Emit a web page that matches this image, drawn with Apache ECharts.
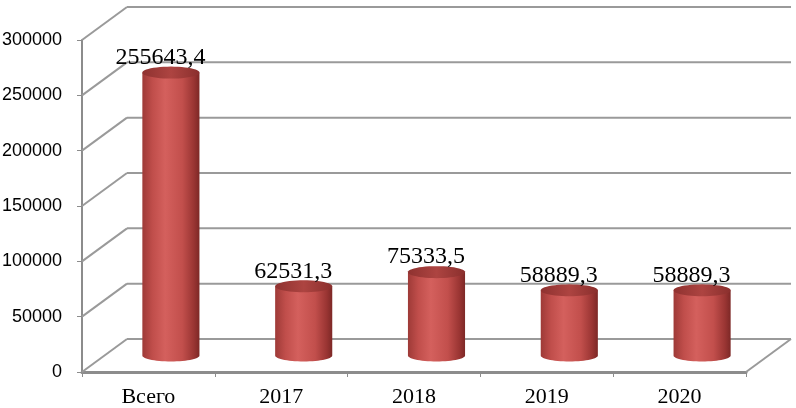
<!DOCTYPE html>
<html>
<head>
<meta charset="utf-8">
<script src="https://cdn.jsdelivr.net/npm/echarts@6/dist/echarts.min.js"></script>
<style>
  html, body { margin: 0; padding: 0; background: #fff; }
  #chart { width: 796px; height: 408px; }
</style>
</head>
<body>
<div id="chart"></div>
<script>
const categories = ["Всего", "2017", "2018", "2019", "2020"]
const values = [255643.4, 62531.3, 75333.5, 58889.3, 58889.3]
const yTicks = [0, 50000, 100000, 150000, 200000, 250000, 300000]

// depth of the 3d box (back wall offset) and where the bars stand in it
const DEPTH_X = 45
const DEPTH_Y = -33
const MID_X = 22.5
const MID_Y = -16.5
const WALL_COLOR = "#9a9a9a"

const chart = echarts.init(document.getElementById("chart"))

function ellipsePts(cx, cy, rx, ry, from, to, n) {
  const pts = []
  for (let k = 0; k <= n; k++) {
    const a = from + (to - from) * k / n
    pts.push([cx + rx * Math.cos(a), cy + ry * Math.sin(a)])
  }
  return pts
}

const option = {
  animation: false,
  grid: {
    left: 82,
    right: 50,
    top: 40,
    bottom: 36,
    outerBoundsMode: "none",
  },
  xAxis: {
    type: "category",
    data: categories,
    axisLine: { lineStyle: { color: "#8c8c8c", width: 3 } },
    axisTick: { show: true, length: 5, lineStyle: { color: "#8c8c8c" } },
    axisLabel: {
      margin: 14,
      fontFamily: "Liberation Serif",
      fontSize: 22,
      color: "#000",
    },
    splitLine: { show: false },
  },
  yAxis: {
    type: "value",
    min: 0,
    max: 300000,
    interval: 50000,
    axisLine: { show: true, lineStyle: { color: "#8c8c8c", width: 2 } },
    axisTick: { show: true, length: 5, lineStyle: { color: "#8c8c8c" } },
    axisLabel: {
      margin: 20,
      fontFamily: "Liberation Sans",
      fontSize: 18,
      color: "#000",
      formatter: (v) => String(v), // no thousands separators
    },
    splitLine: { show: false },
  },
  series: [
    {
      // left wall, back wall and floor lines
      type: "custom",
      z: 1,
      silent: true,
      data: yTicks.map((v) => [0, v]),
      renderItem: function (params, api) {
        const cs = params.coordSys
        const y = api.coord([0, api.value(1)])[1]
        const L = cs.x
        const R = cs.x + cs.width
        const style = { stroke: WALL_COLOR, lineWidth: 2 }
        const children = [
          { type: "line", shape: { x1: L, y1: y, x2: L + DEPTH_X, y2: y + DEPTH_Y }, style: style },
          { type: "line", shape: { x1: L + DEPTH_X, y1: y + DEPTH_Y, x2: R + DEPTH_X, y2: y + DEPTH_Y }, style: style },
        ]
        if (api.value(1) === 0) {
          children.push({ type: "line", shape: { x1: R, y1: y, x2: R + DEPTH_X, y2: y + DEPTH_Y }, style: style })
        }
        return { type: "group", children: children }
      },
    },
    {
      // cylinders
      type: "custom",
      z: 3,
      data: values.map((v, i) => [i, v]),
      renderItem: function (params, api) {
        const i = api.value(0)
        const v = api.value(1)
        const top = api.coord([i, v])
        const base = api.coord([i, 0])
        const w = api.size([1, 0])[0] * 0.43
        const rx = w / 2
        const ry = 6
        const cx = top[0] + MID_X
        const ty = top[1] + MID_Y
        const by = base[1] + MID_Y
        // body: left side down, front half of bottom ellipse, right side up
        const bodyPts = [[cx - rx, ty]]
          .concat(ellipsePts(cx, by, rx, ry, Math.PI, 0, 30))
          .concat([[cx + rx, ty]])
        const topPts = ellipsePts(cx, ty, rx, ry, 0, Math.PI * 2, 48)
        const label = String(values[i]).replace(".", ",")
        return {
          type: "group",
          children: [
            {
              type: "polygon",
              shape: { points: bodyPts },
              style: {
                fill: {
                  type: "linear", x: 0, y: 0, x2: 1, y2: 0,
                  colorStops: [
                    { offset: 0, color: "#9e3a37" },
                    { offset: 0.18, color: "#c04e4b" },
                    { offset: 0.4, color: "#d4605d" },
                    { offset: 0.7, color: "#c24f4c" },
                    { offset: 0.9, color: "#9a3533" },
                    { offset: 1, color: "#7d2826" },
                  ],
                },
              },
            },
            {
              type: "polygon",
              shape: { points: topPts },
              style: {
                fill: {
                  type: "linear", x: 0, y: 0, x2: 1, y2: 0,
                  colorStops: [
                    { offset: 0, color: "#8f3230" },
                    { offset: 0.5, color: "#ad4441" },
                    { offset: 1, color: "#8a2f2d" },
                  ],
                },
              },
            },
            {
              type: "text",
              x: cx - 10.5,
              y: ty - 15,
              style: {
                text: label,
                fill: "#000",
                font: "24px 'Liberation Serif'",
                align: "center",
                verticalAlign: "middle",
              },
            },
          ],
        }
      },
    },
  ],
}

option && chart.setOption(option)
</script>
</body>
</html>
